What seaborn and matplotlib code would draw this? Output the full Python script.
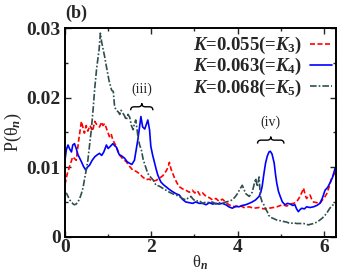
import numpy as np
import pandas as pd
import matplotlib
matplotlib.use("Agg")
import matplotlib.pyplot as plt
import matplotlib.transforms as mtransforms
from matplotlib.path import Path
from matplotlib.patches import PathPatch
import seaborn as sns

# ---------------- data ----------------
labels = [r"$K$=0.055(=$K_3$)", r"$K$=0.063(=$K_4$)", r"$K$=0.068(=$K_5$)"]

red_x = [0.00, 0.05, 0.10, 0.18, 0.26, 0.32, 0.38, 0.45, 0.49, 0.53, 0.58, 0.64, 0.69, 0.75, 0.80,
         0.85, 0.88, 0.92, 0.96, 1.03, 1.07, 1.11, 1.19, 1.26, 1.34, 1.42, 1.50, 1.57, 1.65, 1.72,
         1.80, 1.88, 1.95, 2.03, 2.11, 2.19, 2.27, 2.34, 2.39, 2.42, 2.46, 2.53, 2.59, 2.65, 2.72,
         2.80, 2.88, 2.95, 3.01, 3.07, 3.13, 3.19, 3.27, 3.35, 3.42, 3.50, 3.57, 3.65, 3.72, 3.80,
         3.88, 3.96, 4.05, 4.15, 4.27, 4.38, 4.50, 4.61, 4.73, 4.83, 4.91, 5.00, 5.06, 5.14, 5.22,
         5.30, 5.37, 5.45, 5.50, 5.53, 5.57, 5.60, 5.64, 5.68, 5.72, 5.76, 5.84, 5.91, 5.97, 6.03,
         6.07, 6.13, 6.18, 6.25, 6.28]
red_y = [0.0075, 0.0090, 0.0100, 0.0115, 0.0110, 0.0140, 0.0166, 0.0149, 0.0160, 0.0152, 0.0160,
         0.0152, 0.0166, 0.0160, 0.0158, 0.0165, 0.0160, 0.0163, 0.0156, 0.0144, 0.0148, 0.0139,
         0.0130, 0.0118, 0.0112, 0.0108, 0.0101, 0.0096, 0.0094, 0.0091, 0.0086, 0.0082, 0.0083,
         0.0080, 0.0081, 0.0084, 0.0088, 0.0094, 0.0100, 0.0107, 0.0097, 0.0086, 0.0078, 0.0072,
         0.0069, 0.0067, 0.0064, 0.0067, 0.0063, 0.0066, 0.0060, 0.0063, 0.0058, 0.0056, 0.0053,
         0.0055, 0.0051, 0.0054, 0.0050, 0.0046, 0.0044, 0.0043, 0.0045, 0.0042, 0.0043, 0.0041,
         0.0042, 0.0040, 0.0041, 0.0042, 0.0043, 0.0045, 0.0046, 0.0044, 0.0047, 0.0048, 0.0050,
         0.0058, 0.0065, 0.0070, 0.0060, 0.0055, 0.0058, 0.0060, 0.0054, 0.0050, 0.0049, 0.0048,
         0.0053, 0.0058, 0.0062, 0.0073, 0.0084, 0.0091, 0.0093]

blue_x = [0.00, 0.03, 0.07, 0.11, 0.15, 0.18, 0.22, 0.26, 0.30, 0.34, 0.38, 0.43, 0.48, 0.52, 0.57,
          0.63, 0.69, 0.75, 0.80, 0.85, 0.90, 0.96, 1.00, 1.05, 1.11, 1.15, 1.19, 1.23, 1.26, 1.32,
          1.38, 1.44, 1.49, 1.55, 1.61, 1.65, 1.69, 1.72, 1.76, 1.80, 1.85, 1.92, 1.96, 1.99, 2.03,
          2.07, 2.11, 2.15, 2.22, 2.28, 2.34, 2.42, 2.49, 2.57, 2.65, 2.72, 2.80, 2.88, 2.96, 3.03,
          3.11, 3.19, 3.27, 3.35, 3.42, 3.50, 3.57, 3.65, 3.73, 3.80, 3.88, 3.96, 4.03, 4.11, 4.19,
          4.27, 4.34, 4.42, 4.50, 4.54, 4.57, 4.61, 4.65, 4.69, 4.73, 4.76, 4.80, 4.85, 4.88, 4.91,
          4.95, 4.99, 5.04, 5.10, 5.16, 5.22, 5.28, 5.33, 5.37, 5.41, 5.45, 5.49, 5.55, 5.60, 5.68,
          5.76, 5.84, 5.91, 5.97, 6.03, 6.09, 6.14, 6.20, 6.26, 6.28]
blue_y = [0.0110, 0.0125, 0.0132, 0.0126, 0.0122, 0.0132, 0.0134, 0.0127, 0.0118, 0.0113, 0.0108,
          0.0101, 0.0096, 0.0100, 0.0103, 0.0110, 0.0115, 0.0118, 0.0120, 0.0117, 0.0122, 0.0132,
          0.0127, 0.0130, 0.0134, 0.0131, 0.0129, 0.0122, 0.0118, 0.0116, 0.0113, 0.0108, 0.0106,
          0.0104, 0.0110, 0.0125, 0.0140, 0.0154, 0.0173, 0.0158, 0.0155, 0.0168, 0.0154, 0.0130,
          0.0118, 0.0108, 0.0098, 0.0089, 0.0079, 0.0075, 0.0072, 0.0068, 0.0065, 0.0062, 0.0060,
          0.0054, 0.0050, 0.0049, 0.0048, 0.0050, 0.0048, 0.0048, 0.0046, 0.0049, 0.0047, 0.0048,
          0.0047, 0.0048, 0.0046, 0.0043, 0.0041, 0.0044, 0.0043, 0.0045, 0.0046, 0.0048, 0.0050,
          0.0053, 0.0058, 0.0064, 0.0072, 0.0090, 0.0106, 0.0116, 0.0122, 0.0123, 0.0119, 0.0106,
          0.0090, 0.0077, 0.0065, 0.0058, 0.0050, 0.0046, 0.0048, 0.0047, 0.0045, 0.0046, 0.0040,
          0.0036, 0.0039, 0.0041, 0.0040, 0.0043, 0.0042, 0.0043, 0.0045, 0.0048, 0.0056, 0.0067,
          0.0071, 0.0077, 0.0085, 0.0098, 0.0100]

grey_x = [0.00, 0.04, 0.07, 0.11, 0.15, 0.19, 0.22, 0.26, 0.30, 0.34, 0.38, 0.42, 0.45, 0.49, 0.53,
          0.57, 0.61, 0.65, 0.69, 0.73, 0.76, 0.79, 0.82, 0.85, 0.88, 0.92, 0.96, 1.02, 1.08, 1.12,
          1.15, 1.19, 1.23, 1.27, 1.30, 1.34, 1.38, 1.42, 1.46, 1.50, 1.54, 1.58, 1.61, 1.64, 1.67,
          1.69, 1.73, 1.77, 1.81, 1.85, 1.92, 1.98, 2.04, 2.11, 2.18, 2.26, 2.34, 2.42, 2.49, 2.57,
          2.65, 2.72, 2.80, 2.86, 2.92, 2.97, 3.03, 3.11, 3.19, 3.27, 3.35, 3.42, 3.50, 3.57, 3.65,
          3.73, 3.80, 3.88, 3.94, 4.00, 4.05, 4.11, 4.15, 4.19, 4.23, 4.27, 4.31, 4.34, 4.38, 4.42,
          4.46, 4.50, 4.53, 4.57, 4.61, 4.65, 4.69, 4.72, 4.76, 4.84, 4.91, 4.99, 5.06, 5.14, 5.22,
          5.30, 5.37, 5.45, 5.53, 5.60, 5.64, 5.70, 5.76, 5.84, 5.91, 5.97, 6.03, 6.09, 6.14, 6.20,
          6.26, 6.28]
grey_y = [0.0063, 0.0062, 0.0058, 0.0053, 0.0050, 0.0047, 0.0046, 0.0047, 0.0050, 0.0055, 0.0062,
          0.0071, 0.0082, 0.0095, 0.0110, 0.0132, 0.0154, 0.0182, 0.0214, 0.0240, 0.0255, 0.0269,
          0.0293, 0.0280, 0.0271, 0.0259, 0.0245, 0.0225, 0.0211, 0.0209, 0.0187, 0.0182, 0.0180,
          0.0176, 0.0182, 0.0178, 0.0174, 0.0168, 0.0176, 0.0172, 0.0160, 0.0154, 0.0163, 0.0168,
          0.0155, 0.0144, 0.0132, 0.0125, 0.0112, 0.0104, 0.0091, 0.0086, 0.0082, 0.0074, 0.0073,
          0.0070, 0.0067, 0.0064, 0.0062, 0.0060, 0.0058, 0.0055, 0.0053, 0.0056, 0.0058, 0.0054,
          0.0051, 0.0052, 0.0048, 0.0050, 0.0049, 0.0050, 0.0047, 0.0049, 0.0048, 0.0050, 0.0051,
          0.0053, 0.0057, 0.0062, 0.0068, 0.0074, 0.0068, 0.0062, 0.0060, 0.0058, 0.0061, 0.0064,
          0.0074, 0.0084, 0.0072, 0.0086, 0.0058, 0.0050, 0.0046, 0.0040, 0.0036, 0.0031, 0.0028,
          0.0026, 0.0024, 0.0023, 0.0022, 0.0021, 0.0019, 0.0020, 0.0019, 0.0019, 0.0019, 0.0018,
          0.0017, 0.0018, 0.0019, 0.0021, 0.0024, 0.0027, 0.0031, 0.0036, 0.0041, 0.0045, 0.0048,
          0.0049]

x_ticks = [0, 2, 4, 6]
y_ticks = [0, 0.01, 0.02, 0.03]
y_tick_labels = ["0", "0.01", "0.02", "0.03"]

# ---------------- style ----------------
sns.set_style("ticks")
plt.rcParams["font.family"] = ["Liberation Serif", "DejaVu Serif"]
plt.rcParams["mathtext.fontset"] = "custom"
plt.rcParams["mathtext.it"] = "Liberation Serif:italic:bold"
plt.rcParams["mathtext.rm"] = "Liberation Serif:bold"
plt.rcParams["mathtext.bf"] = "Liberation Serif:bold"

fig = plt.figure(figsize=(3.37, 2.73), dpi=100)
ax = fig.add_axes([65 / 337, 36.3 / 273, (336 - 65) / 337, 208.4 / 273])

frames = []
for lab, xs, ys in [(labels[0], red_x, red_y), (labels[1], blue_x, blue_y), (labels[2], grey_x, grey_y)]:
    frames.append(pd.DataFrame({"theta": xs, "P": ys, "K": lab}))
df = pd.concat(frames, ignore_index=True)

colors = {labels[0]: "#ff0000", labels[1]: "#0000ff", labels[2]: "#2f4f4f"}
dashes = {labels[0]: (3, 1.5), labels[1]: "", labels[2]: (4, 1.2, 1, 1.2)}

sns.lineplot(data=df, x="theta", y="P", hue="K", style="K", palette=colors,
             dashes=dashes, estimator=None, sort=False, linewidth=1.2, ax=ax)

ax.set_xlim(0, 2 * np.pi)
ax.set_ylim(0, 0.03)
ax.set_xticks(x_ticks)
ax.set_xticklabels([str(t) for t in x_ticks], fontsize=14, fontweight="bold")
ax.set_yticks(y_ticks)
ax.set_yticklabels(y_tick_labels, fontsize=14, fontweight="bold")
ax.set_xticks([1, 3, 5], minor=True)
ax.set_yticks([0.005, 0.015, 0.025], minor=True)
ax.tick_params(which="both", direction="in", top=True, right=True, width=1.0)
ax.tick_params(which="major", length=4)
ax.tick_params(axis="x", which="major", pad=2)
ax.tick_params(axis="y", which="major", pad=3)
ax.tick_params(which="minor", length=2.5)
for s in ax.spines.values():
    s.set_linewidth(1.4)
    s.set_color("black")

ax.set_xlabel(r"θ$_n$", fontsize=12, labelpad=-2)
ax.set_ylabel(r"P(θ$_n$)", fontsize=13, labelpad=2)

leg = ax.legend(loc="upper right", bbox_to_anchor=(1.0, 0.985), frameon=False,
                markerfirst=False, fontsize=13.5, handlelength=1.2, handletextpad=0.4,
                labelspacing=0.0, borderaxespad=0.1, borderpad=0.1)
for t in leg.get_texts():
    t.set_fontweight("bold")

ax.text(0.0, 1.03, "(b)", transform=ax.transAxes, fontsize=13, fontweight="bold",
        ha="left", va="bottom")


def brace(ax, xc, y, w, h):
    verts = [(-w / 2, -h), (-w / 2, -h / 2), (-w / 2 + h / 2, -h / 2), (-h / 2, -h / 2),
             (0, -h / 2), (0, 0),
             (w / 2, -h), (w / 2, -h / 2), (w / 2 - h / 2, -h / 2), (h / 2, -h / 2),
             (0, -h / 2), (0, 0)]
    codes = [Path.MOVETO, Path.CURVE3, Path.CURVE3, Path.LINETO, Path.CURVE3, Path.CURVE3,
             Path.MOVETO, Path.CURVE3, Path.CURVE3, Path.LINETO, Path.CURVE3, Path.CURVE3]
    tr = (mtransforms.Affine2D().scale(1 / 72) + ax.figure.dpi_scale_trans
          + mtransforms.ScaledTranslation(xc, y, ax.transData))
    ax.add_patch(PathPatch(Path(verts, codes), transform=tr, fill=False, lw=1.0,
                           edgecolor="black", clip_on=False))


brace(ax, 1.78, 0.0192, 16, 5)
ax.text(1.78, 0.0203, "(iii)", fontsize=10, ha="center", va="bottom")
brace(ax, 4.77, 0.0144, 19, 5)
ax.text(4.77, 0.0155, "(iv)", fontsize=10, ha="center", va="bottom")

fig.savefig("out.png", dpi=100)
